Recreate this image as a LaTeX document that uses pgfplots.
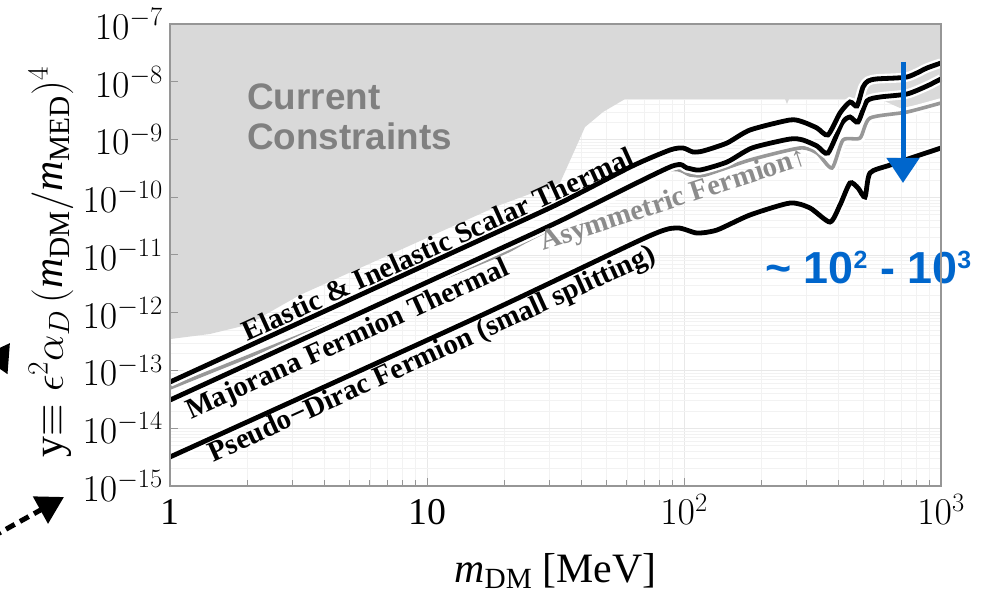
\RequirePackage{fix-cm}
\documentclass[border=0pt]{standalone}
\usepackage{fontspec}
\setmainfont{Liberation Serif}
\newfontfamily\headsans{Liberation Sans}
\usepackage{pgfplots}
\usepackage{pgfplotstable}
\pgfplotsset{compat=1.18}
\usetikzlibrary{arrows.meta}

\definecolor{constraintfill}{RGB}{217,217,217}
\definecolor{asymline}{RGB}{152,152,152}
\definecolor{asymtext}{RGB}{140,140,140}
\definecolor{axisgray}{RGB}{150,150,150}
\definecolor{cctext}{RGB}{128,128,128}
\definecolor{arrowblue}{RGB}{0,102,204}

% thermal targets: x = m_DM [MeV], y = epsilon^2 alpha_D (m_DM/m_MED)^4
\pgfplotstableread{
x y
1 6.32e-14
16.08 1.82e-11
32.93 7.94e-11
63.0 3.48e-10
88.2 6.58e-10
99.1 7.13e-10
108.4 6.08e-10
118.6 6.32e-10
147.0 8.69e-10
180.6 1.46e-9
258.5 2.18e-9
290.4 2.01e-9
329.3 1.58e-9
363.2 1.20e-9
404.6 2.88e-9
442.5 4.46e-9
471.1 3.80e-9
497.2 8.11e-9
520.0 1.03e-8
563.6 1.12e-8
737.6 1.21e-8
882.2 1.73e-8
1000 2.11e-8
}\elastic

\pgfplotstableread{
x y
1 3.08e-14
16.08 8.87e-12
32.93 3.88e-11
88.2 3.34e-10
102.7 3.21e-10
115.4 2.96e-10
147.0 4.07e-10
183.9 7.13e-10
258.5 1.02e-9
290.4 9.79e-10
329.3 7.71e-10
363.2 5.83e-10
412.0 1.93e-9
442.5 2.45e-9
475.4 2.01e-9
515.3 4.65e-9
578.9 5.44e-9
737.6 6.14e-9
882.2 8.44e-9
1000 1.12e-8
}\majorana

\pgfplotstableread{
x y
1 4.98e-14
16.08 7.26e-12
25.2 1.89e-11
82.8 2.74e-10
105.5 2.43e-10
120.7 2.43e-10
180.6 4.42e-10
282.8 7.13e-10
329.3 5.83e-10
376.7 3.21e-10
415.6 9.79e-10
484.0 1.06e-9
529.3 2.35e-9
737.6 2.99e-9
1000 4.29e-9
}\asymmetric

\pgfplotstableread{
x y
1 3.18e-15
16.08 8.79e-13
71.8 2.05e-11
93.9 2.94e-11
112.3 2.40e-11
134.4 2.71e-11
180.6 4.93e-11
258.5 7.94e-11
309.3 6.52e-11
369.9 3.72e-11
404.6 7.34e-11
442.5 1.77e-10
475.4 1.45e-10
506.2 1.01e-10
529.3 2.63e-10
633.5 3.61e-10
1000 7.13e-10
}\pseudodirac

\pgfplotsset{
  layers/fillunder/.define layer set={
    axis background,axis grid,main,axis ticks,axis lines,axis tick labels,axis descriptions,axis foreground
  }{/pgfplots/layers/standard},
  halo/.style={white, line width=9.5bp, smooth, tension=0.4},
  blackcurve/.style={black, line width=4.8bp, smooth, tension=0.4},
  graycurve/.style={asymline, line width=3.6bp, smooth, tension=0.4},
}
\tikzset{
  curvelabel/.style={font=\fontsize{29}{32}\selectfont\bfseries, inner sep=0pt, anchor=base},
  pointer/.style={black, line width=5bp, dash pattern=on 10bp off 6bp,
    -{Triangle[width=30bp,length=27bp]}},
}

\newcommand{\bluesup}[1]{\raisebox{15bp}{\fontsize{25}{25}\selectfont #1}}

\begin{document}
\begin{tikzpicture}
\begin{axis}[
  set layers=fillunder,
  at={(170bp,109bp)}, anchor=south west,
  scale only axis, width=771bp, height=462bp,
  xmode=log, ymode=log,
  xmin=1, xmax=1000, ymin=1e-15, ymax=1e-7,
  xtick={1,10,100,1000},
  xticklabels={1,10,$10^{2}$,$10^{3}$},
  ytick={1e-15,1e-14,1e-13,1e-12,1e-11,1e-10,1e-9,1e-8,1e-7},
  tick align=inside, xtick pos=bottom, ytick pos=left,
  major tick length=8bp, minor tick length=6bp,
  axis line style={axisgray, line width=1.3bp},
  tick style={axisgray, line width=1bp},
  minor y tick style={draw=none},
  grid=both,
  major grid style={black!9, line width=0.7bp},
  minor grid style={black!5, line width=0.6bp},
  tick label style={font=\fontsize{38}{40}\selectfont},
  xticklabel style={anchor=base, yshift=-39bp},
  yticklabel style={inner sep=0pt, xshift=-7bp},
  label style={font=\fontsize{42}{46}\selectfont},
  xlabel={$\mathit{m}_{\mathrm{DM}}$ [MeV]},
  xlabel style={at={(axis description cs:0.5,-0.208)}, anchor=base},
  ylabel={y$\equiv\epsilon^2\alpha_D\,(\mathit{m}_{\mathrm{DM}}/\mathit{m}_{\mathrm{MED}})^4$},
  ylabel style={at={(axis description cs:-0.139,0.485)}, anchor=base},
  clip=false,
]

% excluded region
\addplot[fill=constraintfill, draw=none] coordinates {
  (1,1e-7) (1,3.5e-13) (1.43,4.29e-13) (1.994,6.14e-13) (3.204,2.03e-12)
  (7.85,1.22e-11) (19.23,7.34e-11) (32.93,1.77e-10) (41.19,1.64e-9)
  (48.4,2.99e-9) (58.95,5.02e-9) (247.2,5.02e-9) (251.6,4.12e-9)
  (256.2,5.02e-9) (578.9,5.02e-9) (692.6,3.51e-9) (1000,4.46e-9) (1000,1e-7)
};

\node[font=\fontsize{37}{40}\selectfont\headsans\bfseries, text=cctext, anchor=base west, inner sep=0pt]
  at (axis cs:1.994,3.37e-9) {Current};
\node[font=\fontsize{37}{40}\selectfont\headsans\bfseries, text=cctext, anchor=base west, inner sep=0pt]
  at (axis cs:1.994,6.58e-10) {Constraints};

% thermal target curves with white outlines
\addplot[halo] table {\asymmetric};
\addplot[graycurve] table {\asymmetric};
\addplot[halo] table {\pseudodirac};
\addplot[blackcurve] table {\pseudodirac};
\addplot[halo] table {\majorana};
\addplot[blackcurve] table {\majorana};
\addplot[halo] table {\elastic};
\addplot[blackcurve] table {\elastic};

% curve labels
\node[curvelabel, rotate=24.5] at (axis cs:11.44,1.08e-11) {Elastic \& Inelastic Scalar Thermal};
\node[curvelabel, rotate=24.5] at (axis cs:5.06,2.55e-13) {Majorana Fermion Thermal};
\node[curvelabel, rotate=24.5] at (axis cs:10.80,1.43e-13) {Pseudo−Dirac Fermion (small splitting)};
\node[curvelabel, rotate=18, text=asymtext] at (axis cs:93.1,6.64e-11) {Asymmetric Fermion↑};

% projected improvement
\draw[arrowblue, line width=5bp, -{Triangle[width=32bp,length=25bp]}]
  (axis cs:711.5,2.2e-8) -- (axis cs:711.5,1.77e-10);
\node[font=\fontsize{45}{48}\selectfont\headsans\bfseries, text=arrowblue, anchor=base west, inner sep=0pt]
  at (axis cs:206.6,3.27e-12) {\textasciitilde{} 10\bluesup{2} - 10\bluesup{3}};
\end{axis}

% page frame and pointers from the page margin
\path (0bp,0bp) rectangle (985bp,595bp);
\begin{scope}[overlay]
\draw[pointer] (-8bp,58bp) -- (64bp,98bp);
\draw[pointer] (-40bp,180bp) -- (10bp,252bp);
\end{scope}
\end{tikzpicture}
\end{document}
